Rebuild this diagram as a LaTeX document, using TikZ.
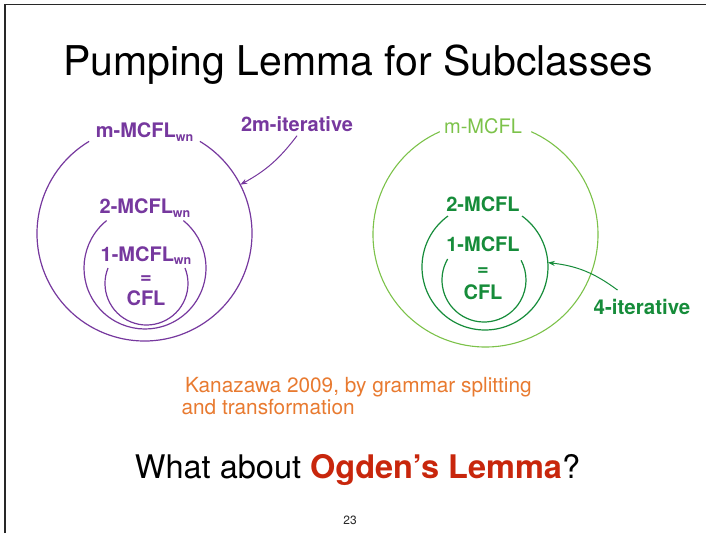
\documentclass[tikz,border=0pt]{standalone}
\usepackage{fontspec}
\setmainfont{TeX Gyre Heros}
\usepackage{xcolor}
\definecolor{wnpurple}{RGB}{118,56,158}
\definecolor{mcgreen}{RGB}{22,140,58}
\definecolor{mclight}{RGB}{124,194,74}
\definecolor{kzorange}{RGB}{232,122,48}
\definecolor{ogred}{RGB}{200,38,12}
\definecolor{slidegray}{RGB}{40,40,40}
\usetikzlibrary{arrows.meta, calc}

\newcommand\subwn{\raisebox{-0.3ex}{\fontsize{12.5}{12.5}\selectfont wn}}

\begin{document}
\begin{tikzpicture}[x=1pt,y=1pt]
\tikzset{
  purple arc/.style={draw=wnpurple, line width=1.2pt},
  green arc/.style={draw=mcgreen, line width=1.2pt},
  light arc/.style={draw=mclight, line width=1.1pt},
  set label/.style={font=\fontsize{20}{20}\bfseries\selectfont, inner sep=1pt},
  stack label/.style={set label, align=center, font=\fontsize{20}{22}\bfseries\selectfont},
  iter arrow/.style={-{Stealth[length=7pt,width=5pt]}, line width=1pt},
}
\useasboundingbox (0,0) rectangle (706,533);

\path[
  draw=slidegray,
  line width=1.3pt]
(5,0) -- (5,528.7) -- (706,528.7);

\node[font=\fontsize{41}{41}\selectfont] (title) at (358,468) {Pumping Lemma for Subclasses};

% left: well-nested classes
\path[purple arc] (144.5,299.5) ++(121:107.5) arc[radius=107.5, start angle=121, end angle=419];
\path[purple arc] (145,265) ++(129:61) arc[radius=61, start angle=129, end angle=411];
\path[purple arc] (146.5,249.5) ++(158:41.5) arc[radius=41.5, start angle=158, end angle=382];

\node[set label, text=wnpurple] (mwn) at (144.5,401) {m-MCFL\subwn};
\node[set label, text=wnpurple] (twown) at (145,325) {2-MCFL\subwn};
\node[stack label, text=wnpurple] (onewn) at (146,257) {1-MCFL\subwn\\=\\CFL};

\node[set label, text=wnpurple] (iterm) at (297,409) {2m-iterative};
\coordinate (outerhit) at ($(144.5,299.5)+(27:107.5)$);
\draw[iter arrow, wnpurple] ([yshift=-3pt]iterm.south) to[bend left=12] (outerhit);

% right: general classes
\path[light arc] (485.5,298.5) ++(114:112.5) arc[radius=112.5, start angle=114, end angle=426];
\path[green arc] (485,266) ++(126:63) arc[radius=63, start angle=126, end angle=414];
\path[green arc] (484,253) ++(150:42) arc[radius=42, start angle=150, end angle=388];

\node[font=\fontsize{20}{20}\selectfont, text=mclight, inner sep=1pt] (mmc) at (483,407) {m-MCFL};
\node[set label, text=mcgreen] (twomc) at (483,329) {2-MCFL};
\node[stack label, text=mcgreen, font=\fontsize{20}{24}\bfseries\selectfont] (onemc) at (483,265) {1-MCFL\\=\\CFL};

\node[set label, text=mcgreen, font=\fontsize{20.5}{20.5}\bfseries\selectfont] (iterfour) at (642,226) {4-iterative};
\coordinate (midhit) at ($(485,266)+(4:63)$);
\draw[iter arrow, mcgreen] ([xshift=25pt,yshift=8pt]iterfour.north west) to[bend right=15] (midhit);

\node[text=kzorange, align=left, anchor=west, font=\fontsize{20.8}{22}\selectfont] (kanazawa) at (178,137)
  {\,Kanazawa 2009, by grammar splitting\\and transformation};

\node[font=\fontsize{32.5}{32.5}\selectfont] (ogden) at (357.5,63)
  {What about \textcolor{ogred}{\bfseries Ogden’s Lemma}?};

\node[font=\fontsize{12}{12}\selectfont, text=slidegray] (pagenum) at (350,13) {23};
\end{tikzpicture}
\end{document}
